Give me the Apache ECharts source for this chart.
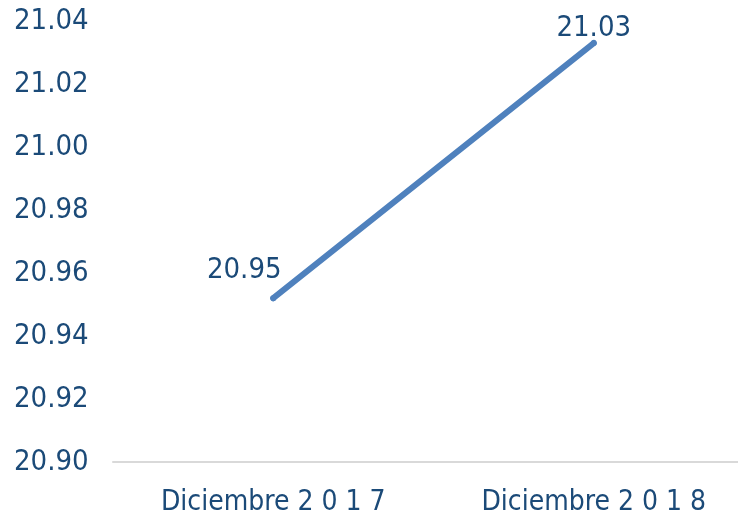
<!DOCTYPE html>
<html>
<head>
<meta charset="utf-8">
<script src="https://cdn.jsdelivr.net/npm/echarts@6/dist/echarts.min.js"></script>
<style>
  html, body { margin: 0; padding: 0; background: #fff; }
  #chart { width: 738px; height: 523px; }
</style>
</head>
<body>
<div id="chart"></div>
<script>
const categories = ['Diciembre 2 0 1 7', 'Diciembre 2 0 1 8'];
const values = [20.952, 21.033];
const yTicks = { min: 20.90, max: 21.04, step: 0.02 };

const textColor = '#1b4a78';
const font = "'Liberation Sans Narrow', 'DejaVu Sans Condensed', Roboto, sans-serif";

const myChart = echarts.init(document.getElementById('chart'));

const option = {
    animation: false,
    grid: { left: 113, right: -16, top: 21, bottom: 61, outerBoundsMode: 'none' },
    xAxis: {
        type: 'category',
        data: categories,
        axisLine: { lineStyle: { color: '#d9d9d9', width: 2 } },
        axisTick: { show: false },
        axisLabel: {
            color: textColor,
            fontFamily: font,
            fontSize: 28,
            margin: 27
        }
    },
    yAxis: {
        type: 'value',
        min: yTicks.min,
        max: yTicks.max,
        interval: yTicks.step,
        splitLine: { show: false },
        axisLine: { show: false },
        axisTick: { show: false },
        axisLabel: {
            color: textColor,
            fontFamily: font,
            fontSize: 29,
            align: 'left',
            margin: 99,
            formatter: function (v) { return v.toFixed(2); }
        }
    },
    series: [{
        type: 'line',
        data: values.map(function (v, i) {
            return {
                value: v,
                label: i === 0
                    ? { position: 'top', offset: [-29, -5] }
                    : { position: 'top', offset: [0, 8] }
            };
        }),
        symbol: 'circle',
        symbolSize: 6,
        itemStyle: { color: '#4f81bd' },
        lineStyle: { color: '#4f81bd', width: 6, cap: 'round' },
        label: {
            show: true,
            color: textColor,
            fontFamily: font,
            fontSize: 29,
            formatter: function (p) { return p.value.toFixed(2); }
        }
    }]
};

myChart.setOption(option);
</script>
</body>
</html>
